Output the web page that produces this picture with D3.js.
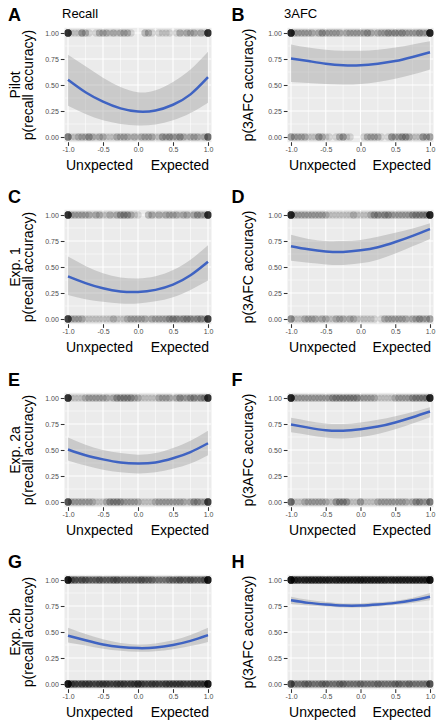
<!DOCTYPE html>
<html><head><meta charset="utf-8">
<script src="https://cdn.jsdelivr.net/npm/d3@7"></script>
<style>body{margin:0;background:#fff} svg{display:block}</style>
</head><body>
<svg id="c" width="441" height="724"></svg>
<script>
// ---------- data ----------
const panelLetters = ["A","B","C","D","E","F","G","H"];
const rowLabels = ["Pilot","Exp. 1","Exp. 2a","Exp. 2b"];
const colTitles = ["Recall","3AFC"];
const yTitles = ["p(recall accuracy)","p(3AFC accuracy)"];
const xTitleLeft = "Unxpected";
const xTitleRight = "Expected";
const yTicks = [0,0.25,0.5,0.75,1];
const yTickLabels = ["0.00","0.25","0.50","0.75","1.00"];
const xTicks = [-1,-0.5,0,0.5,1];
const xTickLabels = ["-1.0","-0.5","0.0","0.5","1.0"];

// fitted curves (logistic quadratic) read at these x
const fitX = [-1,-0.75,-0.5,-0.25,0,0.25,0.5,0.75,1];
const fitA = [.55,.43,.34,.275,.245,.255,.31,.41,.575];
const loA  = [.30,.22,.16,.125,.11,.12,.16,.23,.33];
const hiA  = [.79,.68,.57,.48,.43,.45,.53,.65,.82];
const fitB = [.755,.73,.705,.69,.69,.705,.73,.77,.815];
const loB  = [.53,.52,.51,.505,.51,.53,.56,.60,.65];
const hiB  = [.89,.86,.84,.83,.83,.84,.86,.89,.92];
const fitC = [.41,.345,.295,.265,.26,.28,.33,.42,.55];
const loC  = [.23,.19,.165,.15,.15,.17,.21,.28,.37];
const hiC  = [.60,.51,.44,.40,.39,.41,.47,.57,.71];
const fitD = [.70,.67,.65,.645,.66,.69,.74,.80,.865];
const loD  = [.56,.54,.525,.52,.535,.57,.63,.70,.77];
const hiD  = [.81,.77,.75,.75,.76,.79,.83,.87,.92];
const fitE = [.505,.45,.41,.38,.37,.38,.42,.48,.565];
const loE  = [.40,.35,.31,.285,.275,.285,.32,.37,.45];
const hiE  = [.62,.55,.50,.47,.455,.47,.52,.59,.685];
const fitF = [.745,.715,.69,.685,.70,.725,.765,.815,.87];
const loF  = [.67,.645,.62,.61,.625,.655,.70,.755,.815];
const hiF  = [.81,.78,.755,.75,.765,.79,.825,.865,.91];
const fitG = [.465,.42,.38,.355,.345,.35,.375,.415,.47];
const loG  = [.40,.37,.34,.32,.31,.315,.335,.365,.405];
const hiG  = [.54,.48,.43,.395,.38,.39,.42,.47,.54];
const fitH = [.805,.78,.765,.755,.755,.765,.78,.805,.84];
const loH  = [.77,.755,.745,.735,.735,.745,.76,.78,.805];
const hiH  = [.84,.81,.79,.775,.775,.785,.80,.83,.875];

// raw trials: number of observations at each expectedness value, for accuracy 1 and 0
const pointX = [-1,-0.95,-0.9,-0.85,-0.8,-0.75,-0.7,-0.65,-0.6,-0.55,-0.5,-0.45,-0.4,-0.35,-0.3,-0.25,-0.2,-0.15,-0.1,-0.05,0,
  0.05,0.1,0.15,0.2,0.25,0.3,0.35,0.4,0.45,0.5,0.55,0.6,0.65,0.7,0.75,0.8,0.85,0.9,0.95,1];
const hitA  = [12,1,1,1,3,2,1,0,1,2, 2,2,1,2,1,2,2,2,1,0, 0,0,2,2,1,0,1,1,1,1, 0,1,2,1,2,2,2,1,2,1, 12];
const missA = [5,1,1,2,2,2,3,2,1,2, 2,1,1,1,2,2,2,2,1,2, 1,2,2,2,2,1,1,3,2,3, 2,2,3,2,1,2,2,2,1,2, 6];
const hitB  = [14,2,2,2,2,2,2,1,2,3, 2,2,2,2,2,1,2,2,2,2, 2,2,3,2,1,2,2,2,3,2, 3,2,3,2,2,2,2,3,2,2, 14];
const missB = [3,2,2,2,2,1,1,1,3,2, 1,1,0,1,2,3,1,1,0,0, 0,1,2,2,2,2,1,0,1,3, 2,2,3,3,2,1,1,1,3,2, 3];
const hitC  = [12,2,2,2,2,2,2,1,2,2, 1,1,2,1,2,3,3,3,2,1, 1,0,0,2,2,1,2,1,2,2, 2,2,1,2,2,1,2,3,2,2, 12];
const missC = [10,2,2,2,2,1,1,1,1,1, 1,1,1,2,1,1,1,2,2,2, 2,2,2,1,2,2,2,2,2,3, 3,3,2,3,3,3,2,3,3,2, 10];
const hitD  = [14,2,2,2,2,2,2,2,2,2, 2,1,1,1,1,1,1,1,2,1, 1,1,1,2,3,3,2,3,3,2, 2,2,2,2,2,3,3,3,3,3, 14];
const missD = [4,1,1,1,2,2,2,2,1,2, 2,1,1,2,2,2,1,2,2,1, 1,1,1,1,1,0,1,2,2,2, 2,2,2,2,1,2,2,3,2,2, 3];
const hitE  = [12,1,1,1,1,2,2,2,2,2, 2,2,1,2,3,3,3,3,3,2, 2,1,1,1,1,1,2,2,2,2, 1,2,3,2,2,3,3,2,3,3, 12];
const missE = [8,2,2,2,2,2,2,2,1,1, 1,2,3,3,3,3,2,2,2,2, 2,1,1,1,1,2,2,2,2,2, 2,2,2,2,1,2,3,3,2,2, 10];
const hitF  = [14,2,2,2,2,2,2,2,2,2, 2,2,3,3,3,3,3,3,3,3, 2,2,2,2,2,1,1,1,1,1, 2,2,2,2,2,3,3,3,3,3, 14];
const missF = [6,1,1,1,2,2,2,2,2,2, 2,1,1,3,3,3,3,1,1,1, 3,1,1,1,1,2,2,2,2,2, 2,2,2,2,1,2,3,3,2,2, 5];
const hitG  = [16,5,5,4,5,5,4,4,4,5, 4,4,4,5,5,4,4,4,4,4, 4,5,4,4,4,3,3,3,3,4, 4,4,5,4,4,5,4,4,4,5, 16];
const missG = [16,6,6,5,6,6,6,5,5,6, 6,6,5,5,6,6,6,5,6,6, 8,6,5,5,6,6,5,5,6,6, 6,6,6,6,5,6,6,6,6,6, 16];
const hitH  = [18,8,8,7,8,8,8,8,8,8, 8,8,7,8,8,8,8,8,8,8, 9,8,8,8,8,8,8,8,7,8, 8,8,8,8,8,8,8,8,8,8, 18];
const missH = [8,3,3,3,4,4,3,3,3,4, 4,3,3,3,4,4,3,3,3,3, 4,3,3,3,3,4,3,3,3,3, 4,4,3,3,4,3,3,3,3,3, 8];

const fits = [fitA,fitB,fitC,fitD,fitE,fitF,fitG,fitH];
const los = [loA,loB,loC,loD,loE,loF,loG,loH];
const his = [hiA,hiB,hiC,hiD,hiE,hiF,hiG,hiH];
const hits = [hitA,hitB,hitC,hitD,hitE,hitF,hitG,hitH];
const misses = [missA,missB,missC,missD,missE,missF,missG,missH];

// ---------- layout ----------
const FONT = "'Liberation Sans', Arial, Helvetica, sans-serif";
const colRange = [[68,208],[291,430]];
const rowY1 = [33,215,398,580];   // pixel of y=1.00
const rowH = 104;                 // pixels from 1.00 to 0.00
const svg = d3.select("#c");

panelLetters.forEach((letter, i) => {
  const row = Math.floor(i/2), col = i%2;
  const x = d3.scaleLinear().domain([-1,1]).range(colRange[col]);
  const y = d3.scaleLinear().domain([0,1]).range([rowY1[row]+rowH, rowY1[row]]);
  const L = x(-1.05), R = x(1.05), T = y(1.05), B = y(-0.05);
  const g = svg.append("g");

  const clipId = "clip"+i;
  g.append("clipPath").attr("id",clipId).append("rect")
    .attr("x",L).attr("y",T).attr("width",R-L).attr("height",B-T);

  g.append("rect").attr("x",L).attr("y",T).attr("width",R-L).attr("height",B-T).attr("fill","#EBEBEB");
  const grid = g.append("g").attr("clip-path",`url(#${clipId})`);
  [-0.75,-0.25,0.25,0.75].forEach(v => grid.append("line").attr("x1",x(v)).attr("x2",x(v)).attr("y1",T).attr("y2",B)
    .attr("stroke","#fff").attr("stroke-width",0.55));
  [0.125,0.375,0.625,0.875].forEach(v => grid.append("line").attr("y1",y(v)).attr("y2",y(v)).attr("x1",L).attr("x2",R)
    .attr("stroke","#fff").attr("stroke-width",0.55));
  xTicks.forEach(v => grid.append("line").attr("x1",x(v)).attr("x2",x(v)).attr("y1",T).attr("y2",B)
    .attr("stroke","#fff").attr("stroke-width",1.1));
  yTicks.forEach(v => grid.append("line").attr("y1",y(v)).attr("y2",y(v)).attr("x1",L).attr("x2",R)
    .attr("stroke","#fff").attr("stroke-width",1.1));

  // points
  const pts = [];
  pointX.forEach((px, k) => {
    for (let n=0;n<hits[i][k];n++) pts.push([px,1]);
    for (let n=0;n<misses[i][k];n++) pts.push([px,0]);
  });
  grid.append("g").selectAll("circle").data(pts).join("circle")
    .attr("cx",d=>x(d[0])).attr("cy",d=>y(d[1])).attr("r",3.7)
    .attr("fill","#000").attr("fill-opacity",0.12);

  // ribbon + fit
  const band = fitX.map((v,k)=>({x:v, f:fits[i][k], lo:los[i][k], hi:his[i][k]}));
  grid.append("path").datum(band)
    .attr("d", d3.area().x(d=>x(d.x)).y0(d=>y(d.lo)).y1(d=>y(d.hi)).curve(d3.curveNatural))
    .attr("fill","#999999").attr("fill-opacity",0.4);
  grid.append("path").datum(band)
    .attr("d", d3.line().x(d=>x(d.x)).y(d=>y(d.f)).curve(d3.curveNatural))
    .attr("fill","none").attr("stroke","#3F63C2").attr("stroke-width",2.5);

  // axes
  const ya = g.append("g").attr("transform",`translate(${L},0)`)
    .call(d3.axisLeft(y).tickValues(yTicks).tickFormat((d,k)=>yTickLabels[k]).tickSize(3.7).tickPadding(2));
  const xa = g.append("g").attr("transform",`translate(0,${B})`)
    .call(d3.axisBottom(x).tickValues(xTicks).tickFormat((d,k)=>xTickLabels[k]).tickSize(3.7).tickPadding(1.5));
  [ya,xa].forEach(a => {
    a.select(".domain").remove();
    a.selectAll(".tick line").attr("stroke","#333333").attr("stroke-width",1.07);
    a.selectAll(".tick text").attr("fill","#4D4D4D").style("font-family",FONT).style("font-size","7px");
  });

  // x titles
  g.append("text").attr("x",L+1.5).attr("y",y(0)+33).text(xTitleLeft)
    .style("font-family",FONT).style("font-size","14px").attr("fill","#000");
  g.append("text").attr("x",R-2.5).attr("y",y(0)+33).attr("text-anchor","end").text(xTitleRight)
    .style("font-family",FONT).style("font-size","14px").attr("fill","#000");

  // y titles
  const cy = y(0.5);
  const baseX = col===0 ? 33 : 253;
  g.append("text").attr("transform",`translate(${baseX},${cy}) rotate(-90)`).attr("text-anchor","middle")
    .text(yTitles[col]).style("font-family",FONT).style("font-size","14px");
  if (col===0) {
    g.append("text").attr("transform",`translate(20,${cy}) rotate(-90)`).attr("text-anchor","middle")
      .text(rowLabels[row]).style("font-family",FONT).style("font-size","14px");
  }

  // panel letter
  g.append("text").attr("x", col===0 ? 8 : 231.5).attr("y", rowY1[row]-12).text(letter)
    .style("font-family",FONT).style("font-size","18px").style("font-weight","bold");
  if (row===0) {
    g.append("text").attr("x", col===0 ? 62 : 284).attr("y", rowY1[row]-15).text(colTitles[col])
      .style("font-family",FONT).style("font-size","13px");
  }
});
</script>
</body></html>
